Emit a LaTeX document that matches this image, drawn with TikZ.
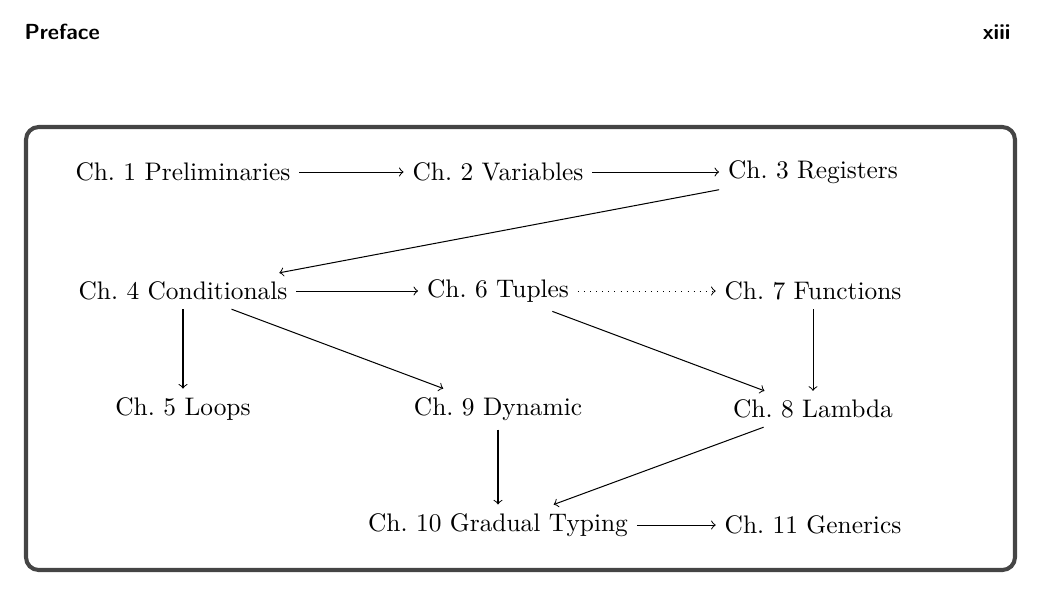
\documentclass[tikz,border=0pt]{standalone}
\usetikzlibrary{positioning}

\definecolor{framegray}{HTML}{454545}

\begin{document}
\begin{tikzpicture}[x=0.394pt,y=-0.394pt,>=to,
    chap/.style={inner sep=0.3333em},
    headtext/.style={inner sep=0pt,font=\fontsize{8.6}{10}\selectfont\sffamily\bfseries}]

  \def\colA{183}
  \def\colB{498}
  \def\colC{813}

  \useasboundingbox (0,0) rectangle (1041,596);

  % running head
  \node[headtext,anchor=base west] (head) at (24,39) {Preface};
  \node[headtext,anchor=base east] (page) at (1011,39) {xiii};

  % frame
  \draw[framegray,line width=1.6pt,rounded corners=5pt] (26,127) rectangle (1015,570);

  \node[chap] (ch1) at (\colA,172) {Ch.~1 Preliminaries};
  \node[chap] (ch2) at (\colB,172) {Ch.~2 Variables};
  \node[chap] (ch3) at (\colC,172) {Ch.~3 Registers};

  \node[chap] (ch4) at (\colA,291) {Ch.~4 Conditionals};
  \node[chap] (ch6) at (\colB,291) {Ch.~6 Tuples};
  \node[chap] (ch7) at (\colC,291) {Ch.~7 Functions};

  \node[chap] (ch5) at (\colA,409) {Ch.~5 Loops};
  \node[chap] (ch9) at (\colB,409) {Ch.~9 Dynamic};
  \node[chap] (ch8) at (\colC,409) {Ch.~8 Lambda};

  \node[chap] (ch10) at (\colB,525) {Ch.~10 Gradual Typing};
  \node[chap] (ch11) at (\colC,525) {Ch.~11 Generics};

  \draw[->] (ch1) -- (ch2);
  \draw[->] (ch2) -- (ch3);
  \draw[->] (ch3) -- (ch4);
  \draw[->] (ch4) -- (ch6);
  \draw[->,dotted] (ch6) -- (ch7);
  \draw[->] (ch4) -- (ch5);
  \draw[->] (ch4) -- (ch9);
  \draw[->] (ch6) -- (ch8);
  \draw[->] (ch7) -- (ch8);
  \draw[->] (ch9) -- (ch10);
  \draw[->] (ch8) -- (ch10);
  \draw[->] (ch10) -- (ch11);

\end{tikzpicture}
\end{document}
